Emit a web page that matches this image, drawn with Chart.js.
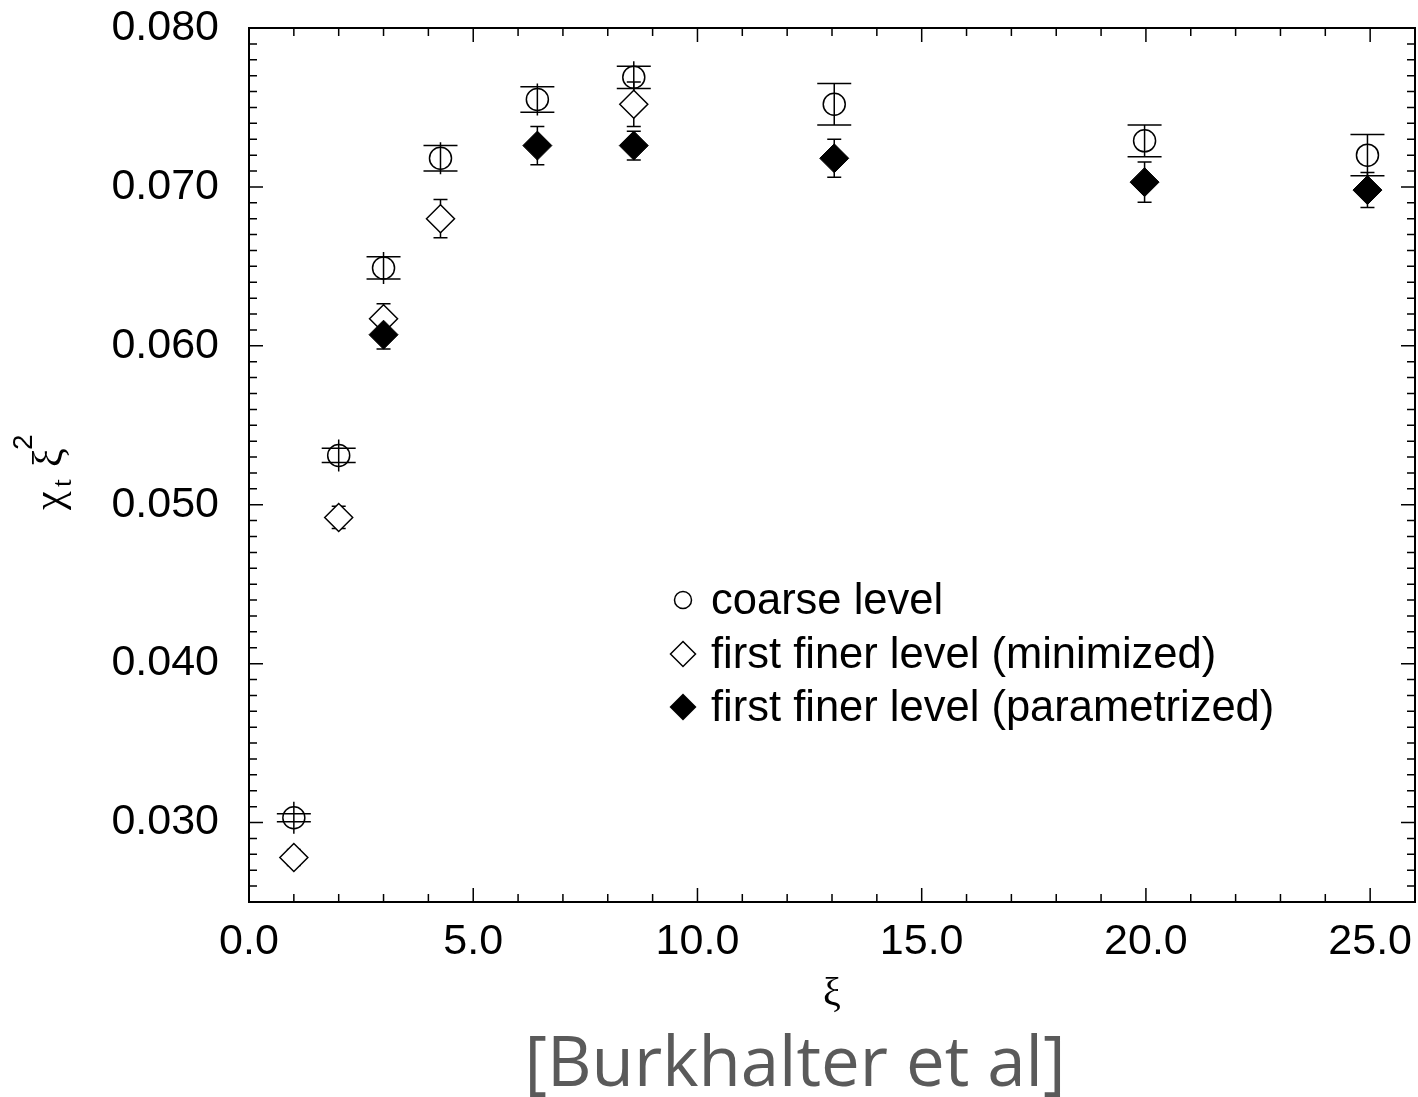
<!DOCTYPE html>
<html>
<head>
<meta charset="utf-8">
<script src="https://cdn.jsdelivr.net/npm/chart.js@4.4.1/dist/chart.umd.min.js"></script>
<style>
  html, body { margin: 0; padding: 0; background: #fff; }
</style>
</head>
<body>
<canvas id="myChart" width="1418" height="1097"></canvas>
<script>
// coarse level (open circles)
const coarseXi  = [1.0, 2.0, 3.0, 4.27, 6.43, 8.58, 13.05, 19.97, 24.94];
const coarseVal = [0.0303, 0.0531, 0.0649, 0.0718, 0.0755, 0.0769, 0.0752, 0.0729, 0.0720];
const coarseErr = [0.00025, 0.00045, 0.0007, 0.0008, 0.0008, 0.0007, 0.0013, 0.0010, 0.0013];

// first finer level, minimized (open diamonds)
const minXi  = [1.0, 2.0, 3.0, 4.27, 8.58];
const minVal = [0.0278, 0.0492, 0.0617, 0.0680, 0.0752];
const minErr = [0.0005, 0.0007, 0.00095, 0.0012, 0.0014];

// first finer level, parametrized (filled diamonds)
const parXi  = [3.0, 6.43, 8.58, 13.05, 19.97, 24.94];
const parVal = [0.0607, 0.0726, 0.0726, 0.0718, 0.0703, 0.0698];
const parErr = [0.0009, 0.0012, 0.0009, 0.0012, 0.00127, 0.0011];

const xTicks = [0, 5, 10, 15, 20, 25];
const yTicks = [0.030, 0.040, 0.050, 0.060, 0.070, 0.080];

const seriesNames = [
  'coarse level',
  'first finer level (minimized)',
  'first finer level (parametrized)'
];

const toPoints = (xs, ys) => xs.map((x, i) => ({ x: x, y: ys[i] }));

const FONT = '"Liberation Sans", Arial, sans-serif';

// error bars, drawn under the markers
const errorBars = {
  id: 'errorBars',
  beforeDatasetsDraw(chart) {
    const ctx = chart.ctx;
    const xs = chart.scales.x, ys = chart.scales.y;
    ctx.save();
    ctx.strokeStyle = '#000';
    ctx.lineWidth = 1.5;
    chart.data.datasets.forEach(ds => {
      ds.data.forEach((p, i) => {
        const px = xs.getPixelForValue(p.x);
        const top = ys.getPixelForValue(p.y + ds.errors[i]);
        const bot = ys.getPixelForValue(p.y - ds.errors[i]);
        const py = ys.getPixelForValue(p.y);
        const riser = Math.max(py - top, ds.minRiser);
        ctx.beginPath();
        ctx.moveTo(px, py - riser);
        ctx.lineTo(px, py + riser);
        ctx.moveTo(px - ds.capHalf, top);
        ctx.lineTo(px + ds.capHalf, top);
        ctx.moveTo(px - ds.capHalf, bot);
        ctx.lineTo(px + ds.capHalf, bot);
        ctx.stroke();
      });
    });
    ctx.restore();
  }
};

// frame, inward ticks on all four sides, legend and titles
const decorations = {
  id: 'decorations',
  afterDraw(chart) {
    const ctx = chart.ctx;
    const a = chart.chartArea;
    const xs = chart.scales.x, ys = chart.scales.y;
    ctx.save();
    ctx.strokeStyle = '#000';

    ctx.lineWidth = 1.5;
    ctx.beginPath();
    for (let v = 0; v <= 26; v++) {
      const px = xs.getPixelForValue(v);
      const len = v % 5 === 0 ? 14 : 8;
      ctx.moveTo(px, a.bottom); ctx.lineTo(px, a.bottom - len);
      ctx.moveTo(px, a.top); ctx.lineTo(px, a.top + len);
    }
    for (let k = 25; k <= 80; k++) {
      const py = ys.getPixelForValue(k / 1000);
      const len = k % 10 === 0 ? 14 : 8;
      ctx.moveTo(a.left, py); ctx.lineTo(a.left + len, py);
      ctx.moveTo(a.right, py); ctx.lineTo(a.right - len, py);
    }
    ctx.stroke();

    ctx.lineWidth = 2;
    ctx.strokeRect(a.left, a.top, a.right - a.left, a.bottom - a.top);

    // legend
    const lx = 683, rows = [600, 654, 707];
    ctx.lineWidth = 1.5;
    ctx.beginPath();
    ctx.arc(lx, rows[0], 8.5, 0, Math.PI * 2);
    ctx.stroke();
    ctx.beginPath();
    ctx.moveTo(lx, rows[1] - 12.5); ctx.lineTo(lx + 12.5, rows[1]);
    ctx.lineTo(lx, rows[1] + 12.5); ctx.lineTo(lx - 12.5, rows[1]);
    ctx.closePath();
    ctx.stroke();
    ctx.beginPath();
    ctx.moveTo(lx, rows[2] - 13.5); ctx.lineTo(lx + 13.5, rows[2]);
    ctx.lineTo(lx, rows[2] + 13.5); ctx.lineTo(lx - 13.5, rows[2]);
    ctx.closePath();
    ctx.fillStyle = '#000';
    ctx.fill();

    ctx.font = '43.5px ' + FONT;
    ctx.textBaseline = 'middle';
    ctx.textAlign = 'left';
    seriesNames.forEach((s, i) => ctx.fillText(s, 711, rows[i] + 2));

    // x axis title
    ctx.font = '40px "Liberation Serif", serif';
    ctx.textAlign = 'center';
    ctx.textBaseline = 'alphabetic';
    ctx.fillText('ξ', (a.left + a.right) / 2, 1005);

    // y axis title: chi_t xi^2, rotated
    ctx.save();
    ctx.translate(62, 470);
    ctx.rotate(-Math.PI / 2);
    ctx.textAlign = 'left';
    ctx.font = '42px "Liberation Serif", serif';
    ctx.fillText('χ', -40, 0);
    ctx.font = '28px "Liberation Serif", serif';
    ctx.fillText('t', -17, 9);
    ctx.font = '42px "Liberation Serif", serif';
    ctx.fillText('ξ', 3, 0);
    ctx.font = '28px ' + FONT;
    ctx.fillText('2', 20, -30);
    ctx.restore();

    // source note
    ctx.fillStyle = '#5a5a5a';
    ctx.font = '69px "Open Sans", sans-serif';
    ctx.textAlign = 'center';
    ctx.fillText('[Burkhalter et al]', 795, 1086);

    ctx.restore();
  }
};

const data = {
  datasets: [
    {
      label: seriesNames[0],
      data: toPoints(coarseXi, coarseVal),
      errors: coarseErr,
      capHalf: 17,
      minRiser: 16,
      pointStyle: 'circle',
      pointRadius: 11,
      borderColor: '#000',
      backgroundColor: 'rgba(0,0,0,0)',
      borderWidth: 1.5,
      order: 2
    },
    {
      label: seriesNames[1],
      data: toPoints(minXi, minVal),
      errors: minErr,
      capHalf: 7,
      minRiser: 0,
      pointStyle: 'rectRot',
      pointRadius: 14,
      borderColor: '#000',
      backgroundColor: '#fff',
      borderWidth: 1.5,
      order: 1
    },
    {
      label: seriesNames[2],
      data: toPoints(parXi, parVal),
      errors: parErr,
      capHalf: 7,
      minRiser: 0,
      pointStyle: 'rectRot',
      pointRadius: 14.5,
      borderColor: '#000',
      backgroundColor: '#000',
      borderWidth: 1,
      order: 0
    }
  ]
};

const config = {
  type: 'scatter',
  data,
  options: {
    responsive: false,
    devicePixelRatio: 1,
    animation: false,
    layout: { autoPadding: false, padding: { top: 28, right: 3, left: 0, bottom: 0 } },
    plugins: {
      legend: { display: false },
      tooltip: { enabled: false }
    },
    scales: {
      x: {
        type: 'linear',
        min: 0,
        max: 26,
        grid: { display: false, drawTicks: false },
        border: { display: false },
        ticks: {
          color: '#000',
          padding: 14,
          font: { size: 43, family: FONT },
          maxRotation: 0,
          callback: v => v.toFixed(1)
        },
        afterBuildTicks: s => { s.ticks = xTicks.map(v => ({ value: v })); },
        afterFit: s => { s.height = 195; s.paddingLeft = 0; s.paddingRight = 0; }
      },
      y: {
        type: 'linear',
        min: 0.025,
        max: 0.080,
        grid: { display: false, drawTicks: false },
        border: { display: false },
        ticks: {
          color: '#000',
          padding: 30,
          font: { size: 43, family: FONT },
          callback: v => v.toFixed(3)
        },
        afterBuildTicks: s => { s.ticks = yTicks.map(v => ({ value: v })); },
        afterFit: s => { s.width = 249; s.paddingTop = 0; s.paddingBottom = 0; }
      }
    }
  },
  plugins: [errorBars, decorations]
};

const myChart = new Chart(document.getElementById('myChart'), config);
</script>
</body>
</html>
